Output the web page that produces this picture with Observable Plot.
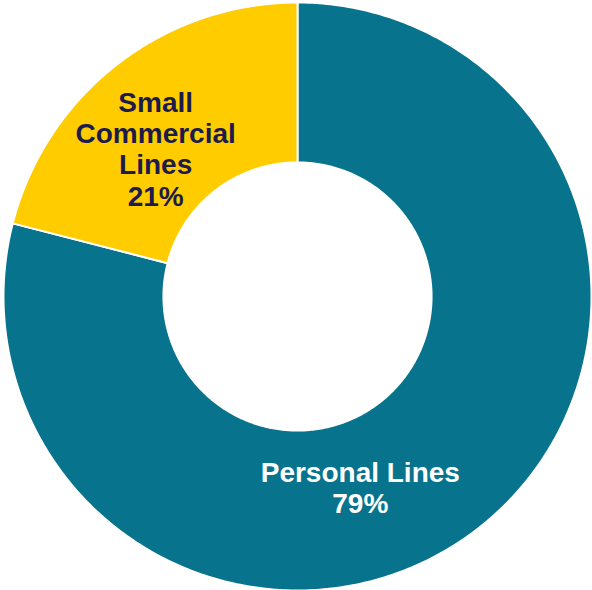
<!DOCTYPE html>
<html>
<head>
<meta charset="utf-8">
<script src="https://cdn.jsdelivr.net/npm/d3@7"></script>
<script src="https://cdn.jsdelivr.net/npm/@observablehq/plot@0.6"></script>
<style>
  html, body { margin: 0; padding: 0; background: #fff; }
  #chart svg { display: block; }
</style>
</head>
<body>
<div id="chart"></div>
<script>
// ---- Data ----
const categories = ["Personal Lines", "Small Commercial Lines"];
const shares = [79, 21];
const labelLines = [["Personal Lines", "79%"], ["Small", "Commercial", "Lines", "21%"]];
const colors = ["#08738C", "#FFCC00"];
const textColors = ["#FFFFFF", "#1C1B4B"];

// ---- Layout ----
const W = 592, H = 590;
const innerR = 0.456, outerR = 1;
const labelPolar = [ {angle: 161.8, r: 0.684}, {angle: 316.2, r: 0.697} ]; // degrees clockwise from top

const pie = d3.pie().sort(null).value(d => d.value)
  .startAngle(0).endAngle(2 * Math.PI);
const arcs = pie(categories.map((c, i) => ({name: c, value: shares[i]})));

// Build polygon outline points for each slice
const pts = [];
const N = 400;
arcs.forEach(a => {
  for (let k = 0; k <= N; k++) {
    const t = a.startAngle + (a.endAngle - a.startAngle) * k / N;
    pts.push({name: a.data.name, x: outerR * Math.sin(t), y: -outerR * Math.cos(t)});
  }
  for (let k = N; k >= 0; k--) {
    const t = a.startAngle + (a.endAngle - a.startAngle) * k / N;
    pts.push({name: a.data.name, x: innerR * Math.sin(t), y: -innerR * Math.cos(t)});
  }
});

const labels = categories.map((c, i) => {
  const p = labelPolar[i];
  const t = p.angle * Math.PI / 180;
  return {name: c, text: labelLines[i].join("\n"), x: p.r * Math.sin(t), y: -p.r * Math.cos(t), color: textColors[i]};
});

const chart = Plot.plot({
  width: W,
  height: H,
  marginLeft: 3,
  marginRight: 1,
  marginTop: 2,
  marginBottom: 0,
  style: {background: "#fff", fontFamily: "Liberation Sans, Arial, sans-serif"},
  x: {domain: [-1, 1], axis: null},
  y: {domain: [-1, 1], reverse: true, axis: null},
  color: {domain: categories, range: colors},
  marks: [
    Plot.line(pts, {x: "x", y: "y", z: "name", fill: "name", stroke: "white", strokeWidth: 2, curve: "linear-closed"}),
    Plot.text(labels, {
      x: "x", y: "y", text: "text", fill: d => d.color,
      fontSize: 28, fontWeight: "bold", lineHeight: 1.12, lineAnchor: "middle", textAnchor: "middle"
    })
  ]
});

document.getElementById("chart").appendChild(chart);
</script>
</body>
</html>
